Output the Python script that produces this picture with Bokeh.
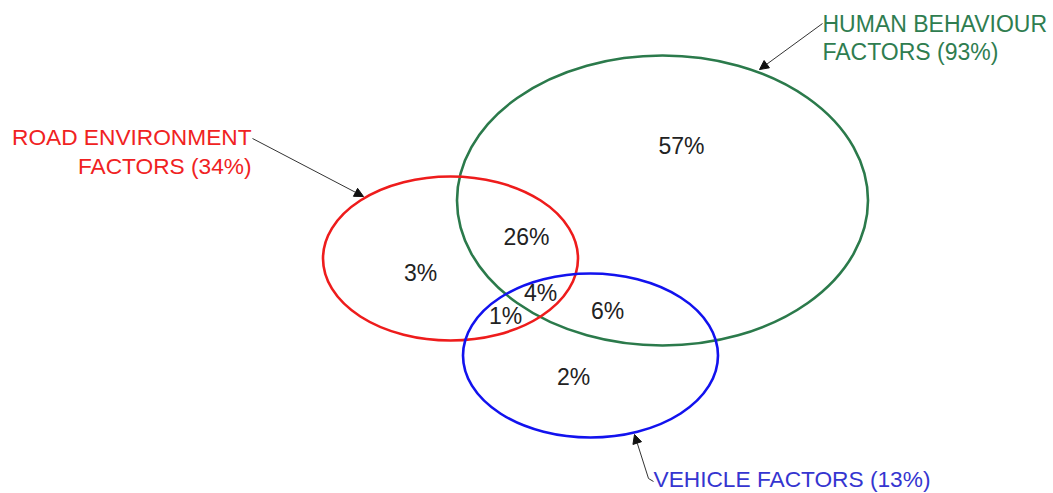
from bokeh.plotting import figure
from bokeh.models import Range1d, Arrow, NormalHead
from bokeh.embed import file_html
from bokeh.resources import INLINE
from bokeh.core.properties import value

# ---- data ----
set_names = ["HUMAN BEHAVIOUR", "ROAD ENVIRONMENT", "VEHICLE"]
set_totals = [93, 34, 13]
region_names = ["Human only", "Road & Human", "Road only", "All three",
                "Road & Vehicle", "Human & Vehicle", "Vehicle only"]
region_values = [57, 26, 3, 4, 1, 6, 2]

# ---- layout (pixel-like coordinates) ----
ell_x = [662, 450, 590]
ell_y = [200, 258, 355]
ell_w = [411, 255, 255]
ell_h = [290, 164, 164]
ell_colors = ["#2b7a4b", "#ee1c1c", "#1212ee"]
text_colors = ["#2f7d50", "#f02222", "#3535d0"]

region_x = [681, 526, 420, 540, 505, 607, 573]
region_y = [145, 236, 272, 292, 315, 310, 376]

FONT = value("Liberation Sans")

p = figure(width=1053, height=493, x_range=Range1d(0, 1053), y_range=Range1d(493, 0),
           output_backend="svg", toolbar_location=None, min_border=0)
p.axis.visible = False
p.grid.visible = False
p.outline_line_color = None
p.background_fill_color = "white"
p.border_fill_color = "white"

# ellipses
p.ellipse(x=ell_x, y=ell_y, width=ell_w, height=ell_h, fill_color=None,
          line_color=ell_colors, line_width=2.6)

# region labels
p.text(x=region_x, y=region_y, text=[f"{v}%" for v in region_values],
       text_font=FONT, text_font_size="23px", text_align="center",
       text_baseline="middle", text_color="#222222")

# set labels
# Human (left aligned)
p.text(x=[822, 822], y=[23, 51],
       text=[set_names[0], f"FACTORS ({set_totals[0]}%)"],
       text_font=FONT, text_font_size="23px", text_align="left",
       text_baseline="middle", text_color=text_colors[0])
# Road (right aligned)
p.text(x=[251, 251], y=[136, 165],
       text=[set_names[1], f"FACTORS ({set_totals[1]}%)"],
       text_font=FONT, text_font_size="22.7px", text_align="right",
       text_baseline="middle", text_color=text_colors[1])
# Vehicle
p.text(x=[653], y=[478],
       text=[f"{set_names[2]} FACTORS ({set_totals[2]}%)"],
       text_font=FONT, text_font_size="22.7px", text_align="left",
       text_baseline="middle", text_color=text_colors[2])

# leader arrows
arrow_start = [(822, 23), (252, 138), (648, 478)]
arrow_end = [(759, 69), (363, 196), (634, 434)]
for (xs, ys), (xe, ye) in zip(arrow_start, arrow_end):
    p.add_layout(Arrow(end=NormalHead(size=9, fill_color="#111111", line_color="#111111", line_width=1),
                       x_start=xs, y_start=ys, x_end=xe, y_end=ye,
                       line_color="#333333", line_width=1))
p.line(x=[648, 653], y=[478, 481], line_color="#333333", line_width=1)

open("out.html", "w").write(file_html(p, INLINE))
